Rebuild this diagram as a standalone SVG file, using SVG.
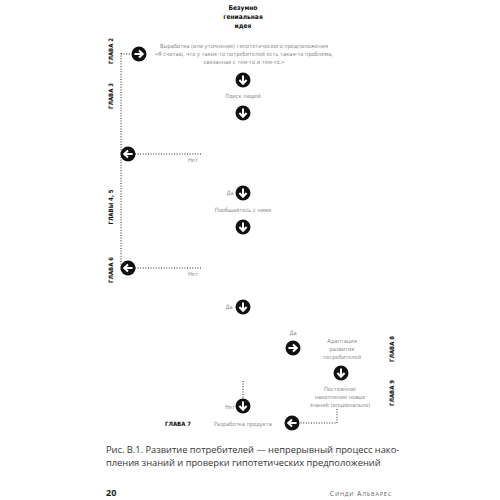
<svg xmlns="http://www.w3.org/2000/svg" width="500" height="500" viewBox="0 0 500 500">
<style>
.t{font-family:"Liberation Sans Narrow","DejaVu Sans Condensed","Liberation Sans",sans-serif;font-size:5.7px;fill:#8a8a8a;text-anchor:middle}
.ttl{font-family:"Liberation Sans Narrow","DejaVu Sans Condensed","Liberation Sans",sans-serif;font-size:6.6px;font-weight:bold;fill:#111;text-anchor:middle}
.ch{font-family:"Liberation Sans Narrow","DejaVu Sans Condensed","Liberation Sans",sans-serif;font-size:6px;font-weight:bold;fill:#111;text-anchor:middle}
.dot{fill:none;stroke:#222;stroke-width:1;stroke-dasharray:1 1.6}
.cap{font-family:"Open Sans","DejaVu Sans",sans-serif;font-size:9.3px;fill:#333}
</style>
<defs>
<g id="ad">
<circle r="7.5" fill="#111"/>
<path d="M0,-4.6 V3.4 M-3.6,0 L0,3.8 L3.6,0" fill="none" stroke="#fff" stroke-width="2" stroke-linejoin="miter"/>
</g>
</defs>
<g id="connectors">
<path class="dot" d="M121,53 V270"/>
<path class="dot" d="M121,54 H131"/>
<path class="dot" d="M135,154 H201"/>
<path class="dot" d="M135,268 H201"/>
<path class="dot" d="M243,381 V398"/>
<path class="dot" d="M337,409 V423 H300"/>
</g>
<g id="title"><text class="ttl" x="243" y="10">Безумно</text><text class="ttl" x="243" y="19">гениальная</text><text class="ttl" x="243" y="28">идея</text></g>
<g id="hypothesis">
<use href="#ad" transform="translate(139,54) rotate(-90)"/>
<text class="t" x="244" y="48">Выработка (или уточнение) гипотетического предположения</text>
<text class="t" x="244" y="56">«Я считаю, что у таких-то потребителей есть такая-то проблема,</text>
<text class="t" x="244" y="64">связанная с тем-то и тем-то.»</text>
</g>
<g id="find"><use href="#ad" x="243" y="80"/><text class="t" x="243" y="98">Поиск людей</text><use href="#ad" x="243" y="113"/></g>
<g id="no1"><use href="#ad" transform="translate(128,154) rotate(90)"/><text class="t" x="193" y="162">Нет</text></g>
<g id="talk"><text class="t" x="230" y="195">Да</text><use href="#ad" x="243" y="193"/><text class="t" x="243" y="212">Пообщайтесь с ними</text><use href="#ad" x="243" y="227"/></g>
<g id="no2"><use href="#ad" transform="translate(128,268) rotate(90)"/><text class="t" x="193" y="276">Нет</text></g>
<g id="yes3"><text class="t" x="229" y="309">Да</text><use href="#ad" x="243" y="307"/></g>
<g id="adapt"><text class="t" x="293" y="335">Да</text><use href="#ad" transform="translate(293,348) rotate(-90)"/>
<text class="t" x="342" y="343">Адаптация</text><text class="t" x="342" y="351">развития</text><text class="t" x="342" y="359">потребителей</text>
<use href="#ad" x="341" y="373"/></g>
<g id="accum"><text class="t" x="340" y="391">Постоянное</text><text class="t" x="340" y="399">накопление новых</text><text class="t" x="340" y="407">знаний (опционально)</text></g>
<g id="product"><text class="t" x="230" y="409">Нет</text><use href="#ad" x="243" y="406"/><text class="t" x="243" y="426">Разработка продукта</text><use href="#ad" transform="translate(292,423) rotate(90)"/></g>
<g id="chapters">
<text class="ch" transform="translate(113,51) rotate(-90)">ГЛАВА 2</text>
<text class="ch" transform="translate(113,96) rotate(-90)">ГЛАВА 3</text>
<text class="ch" transform="translate(113,207) rotate(-90)">ГЛАВЫ 4, 5</text>
<text class="ch" transform="translate(113,270) rotate(-90)">ГЛАВА 6</text>
<text class="ch" x="178" y="426">ГЛАВА 7</text>
<text class="ch" transform="translate(394,349) rotate(-90)">ГЛАВА 8</text>
<text class="ch" transform="translate(394,393) rotate(-90)">ГЛАВА 9</text>
</g>
<g id="caption">
<text class="cap" x="106" y="453">Рис. В.1. Развитие потребителей — непрерывный процесс нако-</text>
<text class="cap" x="106" y="466">пления знаний и проверки гипотетических предположений</text>
<text x="106" y="496" style="font-family:'Open Sans','DejaVu Sans',sans-serif;font-size:9px;font-weight:bold;fill:#222">20</text>
<text x="392" y="496" text-anchor="end" style="font-family:'Open Sans','DejaVu Sans',sans-serif;font-size:7px;letter-spacing:0.8px;fill:#666">С<tspan font-size="5.5">ИНДИ</tspan> А<tspan font-size="5.5">ЛЬВАРЕС</tspan></text>
</g>
</svg>
